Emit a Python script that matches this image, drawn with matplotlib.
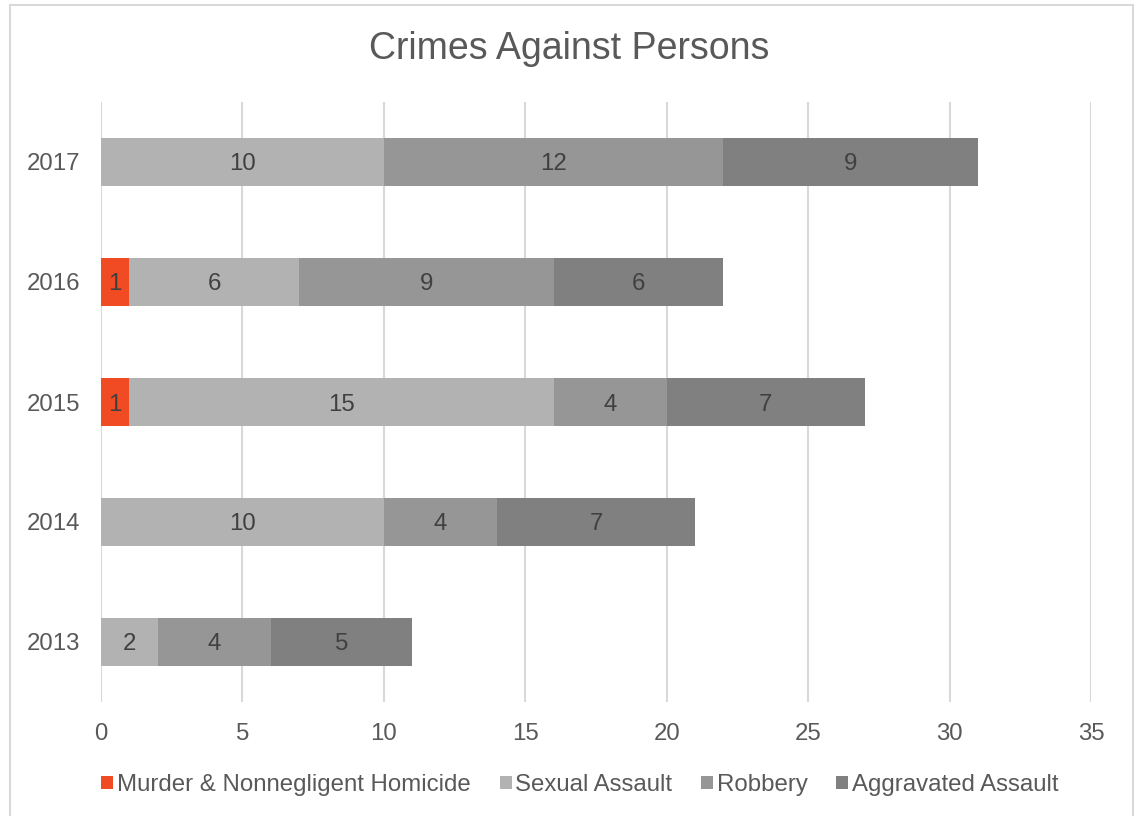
import matplotlib
matplotlib.use("Agg")
import matplotlib.pyplot as plt
from matplotlib.patches import Rectangle, Patch

plt.rcParams['font.family'] = ['Liberation Sans', 'DejaVu Sans']

years = ["2013", "2014", "2015", "2016", "2017"]
series_names = ["Murder & Nonnegligent Homicide", "Sexual Assault", "Robbery", "Aggravated Assault"]
murder = [0, 0, 1, 1, 0]
sexual_assault = [2, 10, 15, 6, 10]
robbery = [4, 4, 4, 9, 12]
aggravated_assault = [5, 7, 7, 6, 9]
colors = ["#F04B23", "#B2B2B2", "#969696", "#808080"]

text_color = "#595959"
label_color = "#404040"
fs = 17.3

fig = plt.figure(figsize=(11.39, 8.16), dpi=100)
ax = fig.add_axes([101 / 1139, 1 - 702 / 816, 990 / 1139, 600 / 816])

# outer chart border
fig.patches.append(Rectangle((10 / 1139, -0.01), 1123 / 1139, 1 - 5 / 816 + 0.01,
                             transform=fig.transFigure, fill=False,
                             edgecolor="#D9D9D9", linewidth=1.5))

ypos = list(range(len(years)))
left = [0] * len(years)
for name, vals, col in zip(series_names, [murder, sexual_assault, robbery, aggravated_assault], colors):
    bars = ax.barh(ypos, vals, left=left, height=0.4, color=col, label=name, zorder=3)
    for b, v in zip(bars, vals):
        if v > 0:
            ax.text(b.get_x() + b.get_width() / 2, b.get_y() + b.get_height() / 2, str(v),
                    ha="center", va="center_baseline", fontsize=fs, color=label_color, zorder=4)
    left = [l + v for l, v in zip(left, vals)]

ax.set_xlim(0, 35)
ax.set_ylim(-0.5, 4.5)
ax.set_xticks(range(0, 36, 5))
ax.set_yticks(ypos)
ax.set_yticklabels(years)
ax.grid(axis="x", color="#D9D9D9", linewidth=1.5, zorder=0)
for s in ax.spines.values():
    s.set_visible(False)
ax.tick_params(axis="both", length=0, labelsize=fs, labelcolor=text_color)
ax.tick_params(axis="x", pad=15)
ax.tick_params(axis="y", pad=15)

fig.text(0.5, 1 - 49 / 816, "Crimes Against Persons", ha="center", va="center",
         fontsize=27, color=text_color)

handles = [Patch(facecolor=c, edgecolor="none") for c in colors]
fig.legend(handles, series_names, loc="center", bbox_to_anchor=(580 / 1139, 1 - 785 / 816),
           ncol=4, frameon=False, fontsize=fs, labelcolor=text_color,
           handlelength=0.5, handleheight=0.5, handletextpad=0.15, columnspacing=1.2)

fig.savefig("out.png", dpi=100)
